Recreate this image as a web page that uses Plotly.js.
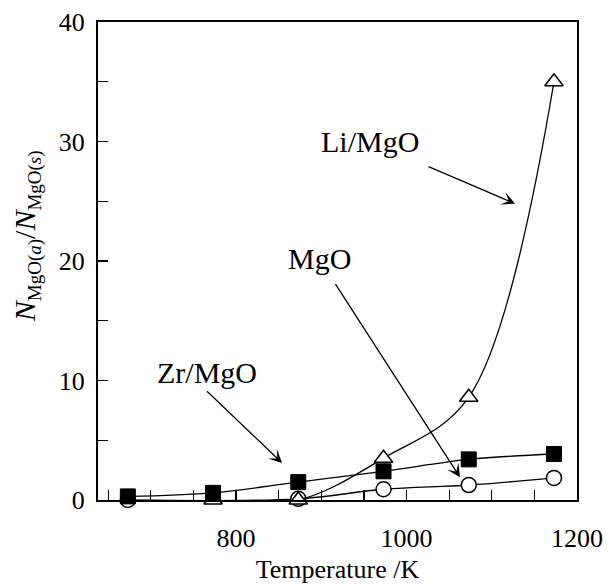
<!DOCTYPE html>
<html>
<head>
<meta charset="utf-8">
<script src="https://cdn.plot.ly/plotly-3.0.1.min.js"></script>
<style>
  html, body { margin: 0; padding: 0; background: #fff; }
  #chart { width: 612px; height: 585px; }
</style>
</head>
<body>
<div id="chart"></div>
<script>
// ---- data ----
const zrTemps  = [673, 773, 873, 973, 1073, 1173];
const zrVals   = [0.3, 0.6, 1.5, 2.4, 3.4, 3.85];

const mgoTemps = [673, 873, 973, 1073, 1173];
const mgoVals  = [0.0, 0.1, 0.9, 1.25, 1.85];

const liTemps  = [773, 873, 973, 1073, 1173];
const liVals   = [0.0, 0.0, 3.5, 8.6, 35.0];

const xTickVals = [800, 1000, 1200];
const xTickText = ['800', '1000', '1200'];
const yTickVals = [0, 10, 20, 30, 40];
const yTickText = ['0', '10', '20', '30', '40'];

const seriesLabels = ['Li/MgO', 'MgO', 'Zr/MgO'];

const FONT = 'Liberation Serif, Times New Roman, serif';

const lineStyle = { color: '#000', width: 1.3, shape: 'spline', smoothing: 1 };

const traces = [
  {
    x: mgoTemps, y: mgoVals, name: 'MgO', type: 'scatter', mode: 'lines+markers',
    line: lineStyle, cliponaxis: false,
    marker: { symbol: 'circle', size: 15, color: '#fff', line: { color: '#000', width: 1.5 } }
  },
  {
    x: liTemps, y: liVals, name: 'Li/MgO', type: 'scatter', mode: 'lines+markers',
    line: lineStyle, cliponaxis: false,
    marker: { symbol: 'triangle-up', size: 16, color: '#fff', line: { color: '#000', width: 1.5 } }
  },
  {
    x: zrTemps, y: zrVals, name: 'Zr/MgO', type: 'scatter', mode: 'lines+markers',
    line: lineStyle, cliponaxis: false,
    marker: { symbol: 'square', size: 15, color: '#000', line: { color: '#000', width: 1 } }
  }
];

// label with an arrow: (x,y) = arrow head, (ax,ay) = text / arrow tail
const callout = (t, x, y, ax, ay, extra) => Object.assign({
  text: t, x: x, y: y, ax: ax, ay: ay,
  xref: 'x', yref: 'y', axref: 'x', ayref: 'y',
  showarrow: true, arrowhead: 3, arrowsize: 1.7, arrowwidth: 1.3,
  arrowcolor: '#000', standoff: 0,
  font: { family: FONT, size: 30, color: '#000' }
}, extra || {});

const yTitle = '<i>N</i><sub><span style="font-size:19px">MgO(<i>a</i>)</span></sub>/' +
               '<i>N</i><sub><span style="font-size:19px">MgO(<i>s</i>)</span></sub>';

const layout = {
  width: 612, height: 585,
  margin: { l: 98, r: 35, t: 22, b: 85 },
  paper_bgcolor: '#fff', plot_bgcolor: '#fff',
  showlegend: false,
  font: { family: FONT, color: '#000', size: 26 },
  xaxis: {
    range: [638, 1200],
    tickmode: 'array', tickvals: xTickVals, ticktext: xTickText,
    ticks: 'inside', ticklen: 10, tickwidth: 1.3, tickcolor: '#000',
    minor: { dtick: 50, tick0: 0, ticks: 'inside', ticklen: 10, tickwidth: 1.3, tickcolor: '#000' },
    ticklabelstandoff: 14,
    showline: true, linecolor: '#000', linewidth: 2, mirror: true,
    showgrid: false, zeroline: false,
    tickfont: { family: FONT, size: 26, color: '#000' },
    title: { text: 'Temperature /K', font: { family: FONT, size: 26, color: '#000' }, standoff: 8 }
  },
  yaxis: {
    range: [0, 40],
    tickmode: 'array', tickvals: yTickVals, ticktext: yTickText,
    ticks: 'inside', ticklen: 10, tickwidth: 1.3, tickcolor: '#000',
    minor: { dtick: 5, tick0: 0, ticks: 'inside', ticklen: 10, tickwidth: 1.3, tickcolor: '#000' },
    ticklabelstandoff: 6,
    showline: true, linecolor: '#000', linewidth: 2, mirror: true,
    showgrid: false, zeroline: false,
    tickfont: { family: FONT, size: 26, color: '#000' }
  },
  annotations: [
    callout(seriesLabels[0], 1127.3, 24.8, 957.1, 30.0, { startstandoff: 18 }),
    callout(seriesLabels[1], 1062.7, 1.9, 897.3, 20.2, { startstandoff: 9 }),
    callout(seriesLabels[2], 853.9, 3.1, 765.9, 9.1, { xanchor: 'center', yanchor: 'bottom' }),
    {
      text: yTitle, xref: 'paper', yref: 'paper', x: -0.148, y: 0.552,
      xanchor: 'center', yanchor: 'middle', textangle: -90, showarrow: false,
      font: { family: FONT, size: 30, color: '#000' }
    }
  ]
};

Plotly.newPlot('chart', traces, layout, { displayModeBar: false, staticPlot: true });
</script>
</body>
</html>
